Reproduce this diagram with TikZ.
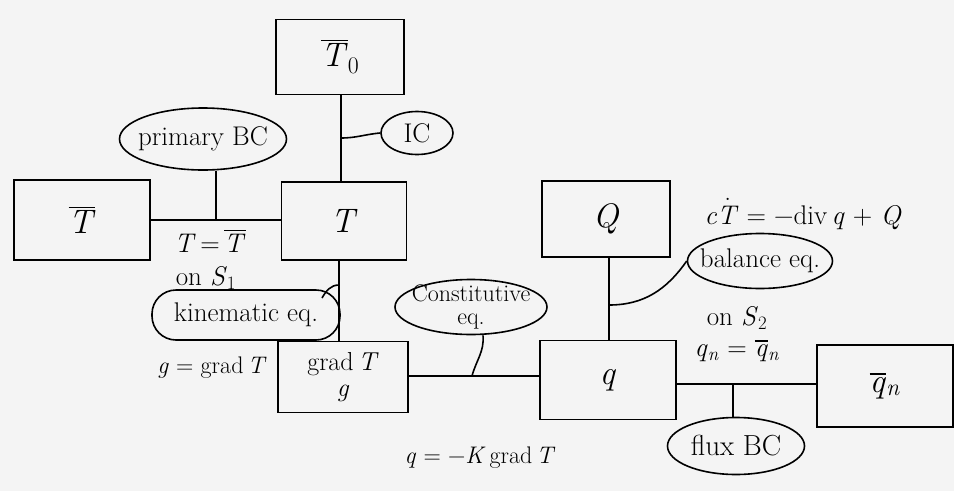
\documentclass[tikz,border=0pt]{standalone}
\usepackage{fontspec}
\usetikzlibrary{shapes.geometric}
\definecolor{paper}{gray}{0.955}
\newsavebox\mytmpbox
\newcommand\ovl[1]{\sbox\mytmpbox{#1}\vbox{\hrule height 1.4pt width\wd\mytmpbox\kern2.5pt\copy\mytmpbox}}
\newcommand\dotover[1]{\sbox\mytmpbox{#1}\vbox{\hbox to\wd\mytmpbox{\hss.\hss}\kern-5pt\copy\mytmpbox}}
\newcommand\iv[1]{\textit{#1}}
\begin{document}
\begin{tikzpicture}[x=1pt,y=-1pt,line width=1.6pt,
  box/.style={draw,rectangle,inner sep=0pt,font=\fontsize{34}{36}\selectfont},
  bub/.style={draw,ellipse,inner sep=0pt},
  stad/.style={draw,rectangle,rounded corners=24pt,inner sep=0pt},
  bubtext/.style={font=\fontsize{27}{29}\selectfont,inner sep=0pt,align=center},
  lbl/.style={font=\fontsize{24}{26}\selectfont,inner sep=0pt},
  lblb/.style={font=\fontsize{27}{29}\selectfont,inner sep=0pt}]
\fill[paper] (0,0) rectangle (954,491);
\useasboundingbox (0,0) rectangle (954,491);

% boxes
\node[box,minimum width=128pt,minimum height=75pt] (T0) at (340,57) {\ovl{\iv{T}}\textsubscript{0}};
\node[box,minimum width=136pt,minimum height=80pt] (Tb) at (82,220) {\ovl{\iv{T}}};
\node[box,minimum width=125pt,minimum height=78pt] (T) at (344,221) {\iv{T}};
\node[box,minimum width=128pt,minimum height=76pt] (Q) at (606,219) {\iv{Q}};
\node[box,minimum width=130pt,minimum height=71pt,align=center,font=\fontsize{26}{28}\selectfont] (G) at (343,377) {grad\,\iv{T}\\[-2pt]\iv{g}};
\node[box,minimum width=136pt,minimum height=79pt] (q) at (608,380) {\iv{q}};
\node[box,minimum width=136pt,minimum height=82pt] (qn) at (885,386) {\ovl{\iv{q}}\textsubscript{\iv{n}}};

% bubbles
\node[bub,minimum width=167pt,minimum height=62pt] (pbc) at (203,139) {};
\node[bubtext] at (pbc) {primary BC};
\node[bub,minimum width=72pt,minimum height=43pt] (ic) at (417,133) {};
\node[bubtext] at (ic) {IC};
\node[stad,minimum width=188pt,minimum height=50pt] (kin) at (246,315) {};
\node[bubtext] at (kin) {kinematic eq.};
\node[bub,minimum width=152pt,minimum height=55pt] (con) at (471,307) {};
\node[bubtext,font=\fontsize{24}{22}\selectfont] at (con) {Constitutive\\[1pt]eq.};
\node[bub,minimum width=145pt,minimum height=55pt] (bal) at (760,261) {};
\node[bubtext] at (bal) {balance eq.};
\node[bub,minimum width=137pt,minimum height=57pt] (flux) at (736,446) {};
\node[bubtext,font=\fontsize{29}{30}\selectfont] at (flux) {flux BC};

% main connectors
\draw (T0.south -| 341,0) -- (341,0 |- T.north);
\draw (Tb.east) -- (Tb.east -| T.west);
\draw (T.south -| 339,0) -- (339,0 |- G.north);
\draw (G.east |- 0,376) -- (q.west |- 0,376);
\draw (Q.south -| 609,0) -- (609,0 |- q.north);
\draw (q.east |- 0,384) -- (qn.west |- 0,384);

% branch connectors
\coordinate (jic) at (341,138);
\draw (jic) to[out=0,in=185] (ic.west);
\coordinate (jpbc) at (216,220);
\draw (jpbc) -- (jpbc |- pbc.south);
\coordinate (jkin) at (339,285);
\draw (jkin) to[out=180,in=60] (322,298);
\coordinate (jcon) at (472,376);
\draw (jcon) to[out=75,in=-85] (con.south -| 483,0);
\coordinate (jbal) at (609,305);
\draw (jbal) to[out=0,in=235] (bal.west);
\coordinate (jflux) at (733,384);
\draw (jflux) -- (jflux |- flux.north);

% labels
\node[lblb] (l1) at (210,241) {\iv{T}\,=\,\ovl{\iv{T}}};
\node[lblb] (l2) at (206,278) {on \iv{S}\textsubscript{1}};
\node[lbl] (l3) at (212,368) {\iv{g} = grad\,\iv{T}};
\node[lbl] (l4) at (480,458) {\iv{q} = −\iv{K}\,grad\,\iv{T}};
\node[lblb] (l5) at (803,214) {\iv{c}\dotover{\iv{T}} = −div\,\iv{q} + \iv{Q}};
\node[lblb] (l6) at (737,318) {on \iv{S}\textsubscript{2}};
\node[lblb] (l7) at (737,351) {\iv{q}\textsubscript{\iv{n}} = \ovl{\iv{q}}\textsubscript{\iv{n}}};
\end{tikzpicture}
\end{document}
